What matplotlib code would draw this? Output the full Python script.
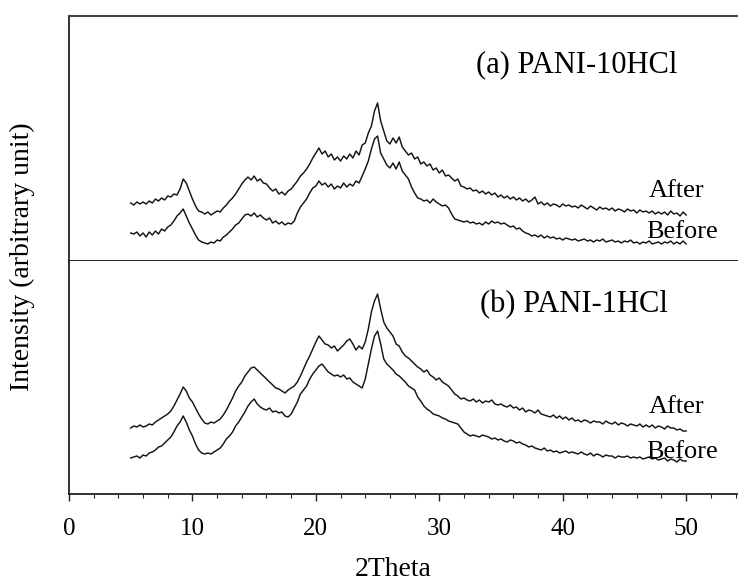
import numpy as np
import matplotlib
matplotlib.use("Agg")
import matplotlib.pyplot as plt

# 2-theta grid (degrees), 0.25 deg step from 5 to 50
two_theta = np.arange(5.0, 50.001, 0.25)

# (a) PANI-10HCl, arbitrary intensity units
a_after = [
    58, 56, 59, 57, 59, 57, 60, 58, 62, 60, 63, 61, 65, 64, 67, 66,
    72, 82, 78, 70, 62, 55, 50, 49, 47, 49, 46, 48, 50, 49, 53, 56,
    60, 63, 67, 72, 77, 81, 84, 81, 85, 80, 82, 78, 77, 73, 70, 72,
    67, 69, 66, 70, 72, 76, 80, 85, 88, 92, 97, 103, 108, 113, 107, 110,
    104, 107, 101, 104, 100, 105, 102, 107, 103, 110, 106, 116, 118, 128, 135, 150,
    158, 140, 130, 120, 117, 123, 118, 124, 114, 110, 106, 108, 102, 104, 97, 99,
    95, 97, 91, 93, 88, 91, 85, 86, 83, 80, 82, 75, 74, 72, 73, 70,
    71, 68, 70, 67, 69, 66, 68, 64, 66, 63, 65, 62, 64, 61, 63, 60,
    62, 59, 61, 64, 57, 59, 56, 58, 55, 57, 56, 54, 57, 55, 56, 54,
    55, 53, 56, 54, 52, 55, 53, 51, 54, 52, 53, 51, 53, 50, 52, 51,
    49, 52, 50, 51, 48, 51, 49, 50, 48, 50, 47, 49, 47, 49, 46, 50,
    47, 48, 45, 49, 46,
]
a_before = [
    28, 27, 29, 25, 28, 24, 29, 26, 30, 27, 32, 30, 34, 36, 40, 45,
    48, 52, 45, 38, 32, 26, 21, 19, 18, 17, 19, 18, 21, 20, 24, 26,
    29, 32, 36, 38, 42, 46, 47, 45, 48, 44, 46, 43, 41, 43, 38, 40,
    37, 39, 36, 38, 37, 40, 48, 54, 58, 62, 68, 73, 75, 80, 76, 78,
    74, 77, 72, 75, 73, 78, 74, 77, 75, 80, 78, 85, 92, 100, 112, 122,
    125, 108, 102, 96, 93, 98, 92, 99, 90, 86, 82, 74, 68, 63, 62, 60,
    61, 58, 62, 59, 57, 55, 56, 53, 47, 42, 41, 40, 39, 40, 38, 39,
    37, 38, 36, 39, 37, 40, 38, 39, 37, 38, 36, 34, 35, 32, 33, 30,
    28, 27, 25, 26, 24, 26, 23, 25, 23, 24, 22, 23, 21, 23, 22, 21,
    22, 20, 21, 22, 20, 21, 19, 21, 20, 22, 19, 20, 21, 19, 20, 18,
    20, 19, 21, 18, 19, 17, 19, 18, 20, 17, 18, 19, 17, 19, 18, 20,
    17, 19, 17, 20, 17,
]

# (b) PANI-1HCl
b_after = [
    66, 68, 67, 69, 67, 68, 70, 69, 72, 74, 76, 78, 80, 83, 88, 94,
    100, 107, 103, 96, 92, 86, 80, 75, 71, 70, 72, 71, 73, 75, 79, 84,
    90, 96, 103, 108, 112, 118, 122, 126, 127, 124, 121, 118, 115, 112, 109, 106,
    105, 103, 101, 104, 106, 108, 112, 118, 125, 132, 138, 145, 152, 158, 154, 150,
    149, 146, 148, 143, 146, 149, 153, 155, 150, 144, 148, 145, 152, 165, 182, 193,
    200, 185, 172, 166, 162, 158, 150, 148, 142, 138, 136, 133, 130, 127, 125, 122,
    124, 119, 117, 114, 116, 112, 110, 108, 104, 100, 98, 95, 96, 94, 93, 95,
    92, 94, 91, 93, 92, 94, 90, 89, 90, 88, 87, 89, 86, 87, 84, 86,
    82, 84, 83, 81, 84, 80, 79, 78, 77, 79, 76, 78, 75, 77, 74, 76,
    73, 74, 72, 74, 73, 71, 73, 72, 72, 70, 73, 71, 70, 72, 69, 71,
    70, 68, 70, 69, 68, 70, 67, 69, 67, 69, 66, 68, 67, 65, 68, 66,
    66, 64, 65, 63, 63,
]
b_before = [
    36, 37, 38, 36, 39, 38, 41, 42, 44, 47, 48, 51, 54, 57, 62, 68,
    72, 78, 72, 64, 58, 50, 44, 41, 40, 41, 40, 42, 44, 46, 50, 55,
    58, 62, 68, 72, 77, 82, 88, 92, 95, 90, 87, 85, 84, 86, 82, 83,
    81, 82, 78, 77, 80, 86, 92, 100, 104, 108, 115, 120, 124, 128, 130, 126,
    122, 120, 118, 119, 117, 119, 115, 116, 112, 110, 108, 106, 115, 130, 145, 158,
    163, 150, 135, 130, 127, 124, 120, 118, 115, 112, 108, 106, 104, 97, 93, 88,
    85, 83, 80, 79, 78, 76, 75, 73, 72, 71, 70, 66, 62, 60, 58, 59,
    58, 57, 59, 58, 57, 55, 56, 54, 55, 53, 52, 54, 53, 51, 52, 50,
    49, 47, 48, 46, 45, 44, 46, 43, 44, 42, 43, 41, 42, 43, 41, 42,
    41, 40, 42, 40, 39, 41, 38, 40, 39, 37, 39, 38, 38, 36, 38, 37,
    37, 38, 36, 37, 36, 37, 35, 36, 37, 35, 36, 34, 35, 36, 33, 35,
    34, 32, 35, 33, 33,
]

panel_titles = ["(a) PANI-10HCl", "(b) PANI-1HCl"]
series_labels = ["After", "Before"]
x_ticks = [0, 10, 20, 30, 40, 50]

serif = ["Liberation Serif", "DejaVu Serif"]
plt.rcParams["font.family"] = serif

W, H = 738, 585
fig = plt.figure(figsize=(W / 100, H / 100), dpi=100)

left = 69 / W
right = 1.0
y_top = 1 - 16 / H
y_mid = 1 - 261 / H
y_bot = 1 - 494 / H

ax_a = fig.add_axes([left, y_mid, right - left, y_top - y_mid])
ax_b = fig.add_axes([left, y_bot, right - left, y_mid - y_bot])

line_kw = dict(color="#141414", lw=1.05)
xmax = 54.2
spine_c = "#222222"

# top panel
ax_a.plot(two_theta, a_after, **line_kw)
ax_a.plot(two_theta, a_before, **line_kw)
ax_a.set_xlim(0, xmax)
ax_a.set_ylim(0, 245)
ax_a.set_xticks([])
ax_a.set_yticks([])
ax_a.spines["right"].set_visible(False)
ax_a.spines["left"].set_color(spine_c)
ax_a.spines["left"].set_linewidth(1.3)
ax_a.spines["top"].set_color("#444444")
ax_a.spines["top"].set_linewidth(1.5)
ax_a.spines["bottom"].set_color("#111111")
ax_a.spines["bottom"].set_linewidth(2.0)
ax_a.text(33.0, 189, panel_titles[0], fontsize=22, va="baseline", ha="left")
ax_a.text(47.0, 64, series_labels[0], fontsize=19, va="baseline", ha="left")
ax_a.text(46.8, 23, series_labels[1], fontsize=19, va="baseline", ha="left")

# bottom panel
ax_b.plot(two_theta, b_after, **line_kw)
ax_b.plot(two_theta, b_before, **line_kw)
ax_b.set_xlim(0, xmax)
ax_b.set_ylim(0, 233)
ax_b.set_yticks([])
ax_b.set_xticks(x_ticks)
ax_b.set_xticks(np.arange(0, 54.1, 2), minor=True)
ax_b.tick_params(axis="x", which="major", length=5, width=1, direction="out",
                 pad=12, labelsize=18, color=spine_c)
ax_b.tick_params(axis="x", which="minor", length=3, width=0.8, direction="out",
                 color=spine_c)
ax_b.spines["right"].set_visible(False)
ax_b.spines["top"].set_visible(False)
for s in ["left", "bottom"]:
    ax_b.spines[s].set_color(spine_c)
    ax_b.spines[s].set_linewidth(1.3)
ax_b.text(33.3, 182, panel_titles[1], fontsize=22, va="baseline", ha="left")
ax_b.text(47.0, 81, series_labels[0], fontsize=19, va="baseline", ha="left")
ax_b.text(46.8, 36, series_labels[1], fontsize=19, va="baseline", ha="left")

fig.text(22 / W, 1 - 257 / H, "Intensity (arbitrary unit)", rotation=90,
         fontsize=20, va="center", ha="center")
fig.text(393 / W, 1 - 570 / H, "2Theta", fontsize=20,
         va="center", ha="center")

fig.savefig("out.png", dpi=100)
